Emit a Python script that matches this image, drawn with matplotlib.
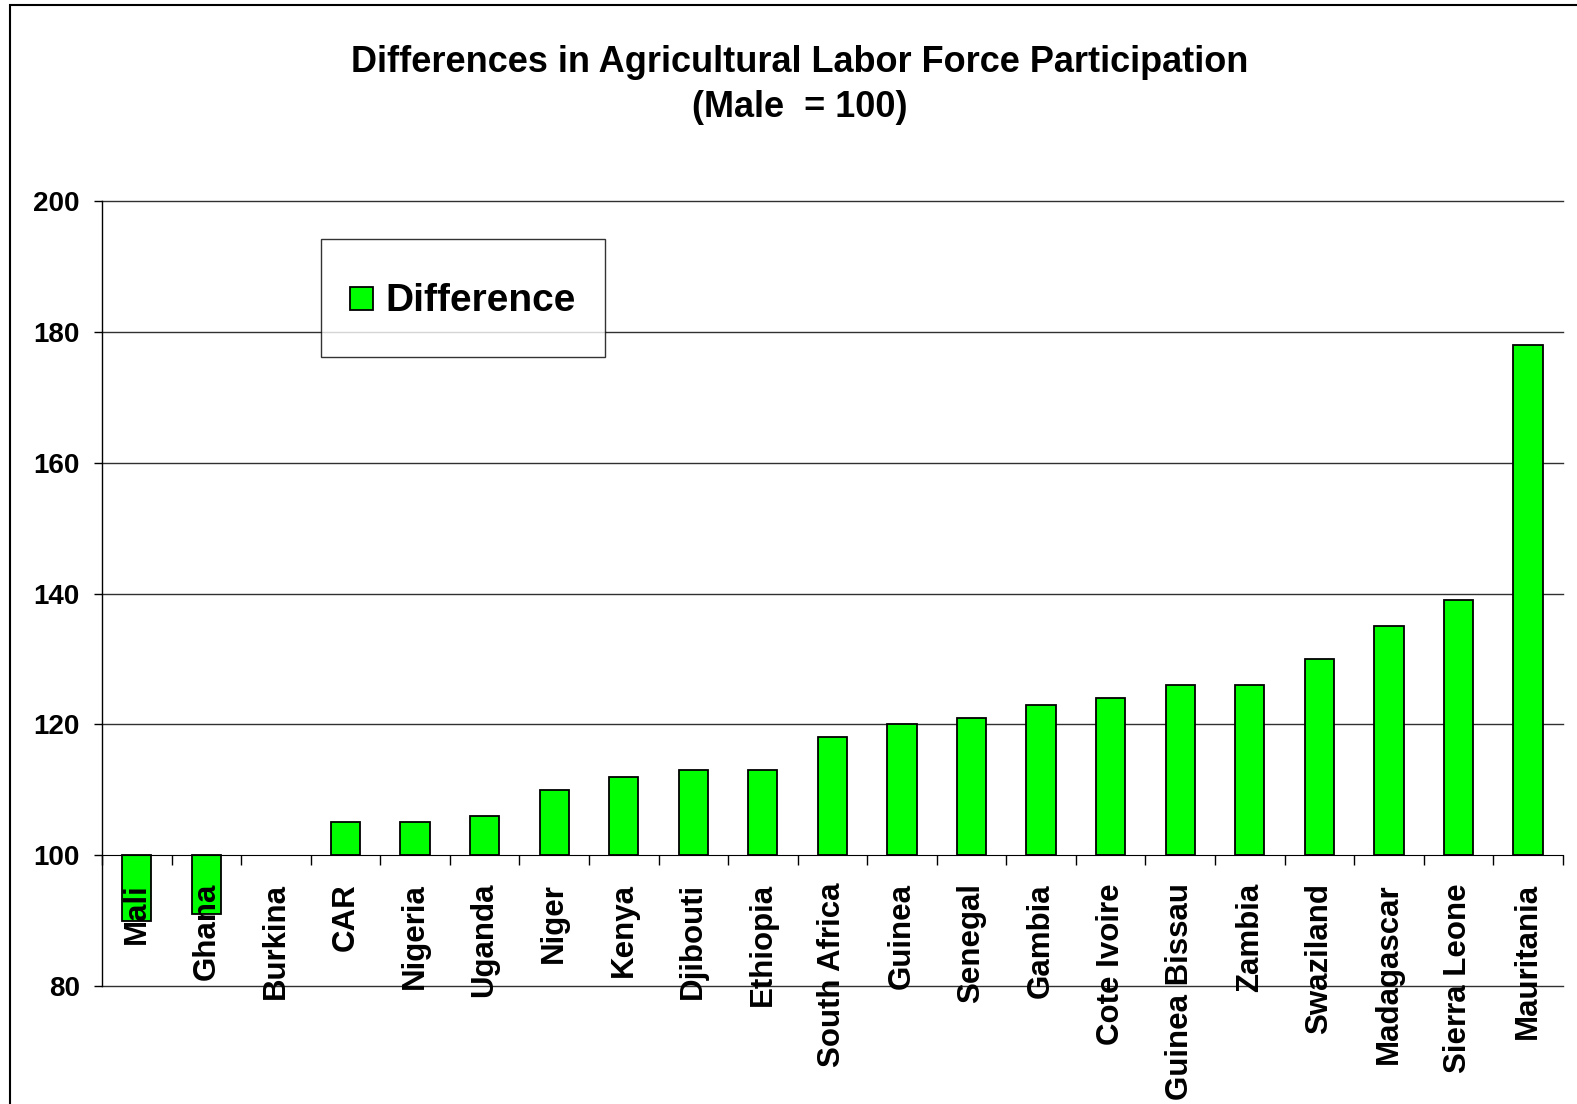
import numpy as np
import matplotlib as mpl
mpl.use('Agg')
import matplotlib.pyplot as plt
from matplotlib.patches import Rectangle
from matplotlib.container import BarContainer
from matplotlib.legend_handler import HandlerPatch, update_from_first_child

countries = ['Mali', 'Ghana', 'Burkina', 'CAR', 'Nigeria', 'Uganda', 'Niger',
             'Kenya', 'Djibouti', 'Ethiopia', 'South Africa', 'Guinea',
             'Senegal', 'Gambia', 'Cote Ivoire', 'Guinea Bissau', 'Zambia',
             'Swaziland', 'Madagascar', 'Sierra Leone', 'Mauritania']
difference = [90, 91, 100, 105, 105, 106, 110, 112, 113, 113, 118, 120,
              121, 123, 124, 126, 126, 130, 135, 139, 178]
base = 100
yticks = [80, 100, 120, 140, 160, 180, 200]

plt.rcParams['font.family'] = ['Liberation Sans', 'DejaVu Sans']
plt.rcParams['font.weight'] = 'bold'

fig = plt.figure(figsize=(15.77, 11.04), dpi=100)
ax = fig.add_axes((0.0647, 0.1069, 0.9263, 0.711))

x = np.arange(len(countries))
vals = np.array(difference) - base
#no outline for zero-height bars:
edges = ['black' if v != 0 else 'none' for v in vals]
ax.bar(x, vals, bottom=base, width=0.42, color='#00FF00',
       edgecolor=edges, linewidth=1.3, label='Difference', zorder=2)

ax.set_xlim(-0.5, len(countries) - 0.5)
ax.set_ylim(80, 200)

#Spines - x axis crosses at 100:
ax.spines['top'].set_visible(False)
ax.spines['right'].set_visible(False)
ax.spines['bottom'].set_position(('data', base))
ax.spines['bottom'].set_zorder(4)
ax.spines['left'].set_linewidth(1.0)

#Gridlines (behind bars):
ax.set_yticks(yticks)
for yv in yticks:
    if yv != base:
        ax.axhline(yv, color='#303030', linewidth=1.0, zorder=1, clip_on=False)
ax.tick_params(axis='y', direction='out', length=6, width=1, pad=10,
               labelsize=20)

#Category labels at centers, ticks between categories:
ax.set_xticks(x)
ax.set_xticklabels(countries, rotation=90, fontsize=22.5, fontweight='bold')
ax.set_xticks(np.arange(len(countries) + 1) - 0.5, minor=True)
ax.tick_params(axis='x', which='major', length=0, pad=20)
ax.tick_params(axis='x', which='minor', direction='out', length=7, width=1)
for lbl in ax.get_xticklabels():
    lbl.set_verticalalignment('top')
ax.xaxis.set_zorder(5)


#Square legend key centered in a taller handle box:
def square_key(legend, orig_handle, xdescent, ydescent, width, height, fontsize):
    s = min(width, height)
    return Rectangle((-xdescent + (width - s) / 2, -ydescent + (height - s) / 2), s, s)


leg = ax.legend(loc='upper left', bbox_to_anchor=(0.2035, 0.7835),
                bbox_transform=fig.transFigure, fontsize=28, frameon=True,
                fancybox=False, borderpad=0.75, handlelength=0.6,
                handleheight=2.0, handletextpad=0.3, borderaxespad=0,
                handler_map={BarContainer: HandlerPatch(patch_func=square_key,
                                                        update_func=update_from_first_child)})
leg.get_frame().set_edgecolor('black')
leg.get_frame().set_linewidth(1.0)
leg.set_zorder(6)

#Title:
fig.text(0.507, 0.943, 'Differences in Agricultural Labor Force Participation',
         ha='center', va='center', fontsize=26, fontweight='bold')
fig.text(0.507, 0.903, '(Male  = 100)',
         ha='center', va='center', fontsize=26, fontweight='bold')

#Outer border:
fig.patches.append(Rectangle((10 / 1577, -0.1), 1.2, 1.1 - 5 / 1104,
                             transform=fig.transFigure, fill=False,
                             edgecolor='black', linewidth=1.5))

fig.savefig('out.png', dpi=100)
